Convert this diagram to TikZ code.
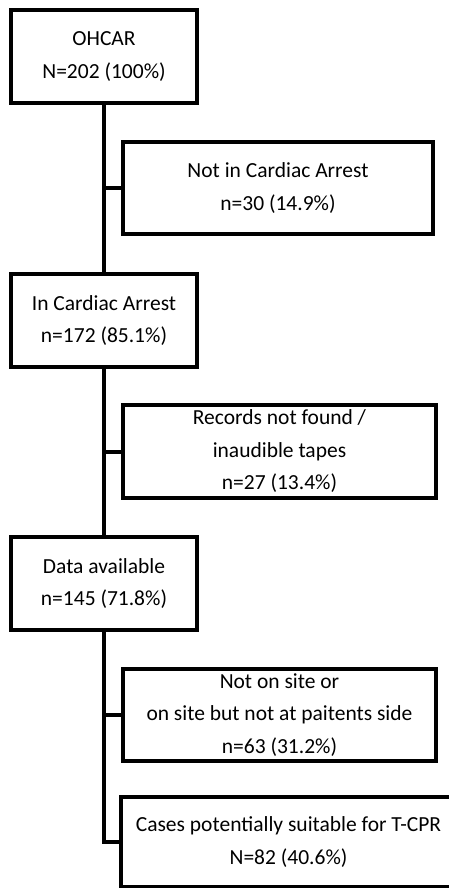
\documentclass[tikz,border=0pt]{standalone}
\usepackage{fontspec}
\setmainfont{Carlito}
\usetikzlibrary{positioning, calc}

\begin{document}
\begin{tikzpicture}[x=1pt, y=1pt,
  box/.style={draw, rectangle, line width=4pt, align=center, anchor=north west, inner sep=0pt, font=\fontsize{21.5}{32.5}\selectfont},
  main/.style={box, minimum width=186pt, minimum height=93pt},
  side/.style={box, minimum width=313pt, minimum height=92pt},
  trunk/.style={line width=4pt}]
 \useasboundingbox (0,0) rectangle (449,-888);
 \node[main] (ohcar) at (9,-8) {OHCAR\\N=202 (100\%)};
 \node[side, minimum width=310pt] (notca) at (121,-140) {Not in Cardiac Arrest\\n=30 (14.9\%)};
 \node[main] (inca) at (9,-272) {In Cardiac Arrest\\n=172 (85.1\%)};
 \node[side, minimum height=93pt] (records) at (121,-403) {Records not found /\\inaudible tapes\\n=27 (13.4\%)};
 \node[main] (data) at (9,-535) {Data available\\n=145 (71.8\%)};
 \node[side] (notsite) at (121,-667) {Not on site or\\on site but not at paitents side\\n=63 (31.2\%)};
 \node[box, minimum width=335pt, minimum height=90pt, anchor=north west] (cases) at (119,-795) {Cases potentially suitable for T-CPR\\N=82 (40.6\%)};

 % main line
 \draw[trunk] (ohcar.south) -- (inca.north);
 \draw[trunk] (inca.south) -- (data.north);
 \draw[trunk] (data.south) |- (cases.west);
 % exclusions
 \draw[trunk] (ohcar.south |- notca.west) -- (notca.west);
 \draw[trunk] (inca.south |- records.west) -- (records.west);
 \draw[trunk] (data.south |- notsite.west) -- (notsite.west);
\end{tikzpicture}
\end{document}
